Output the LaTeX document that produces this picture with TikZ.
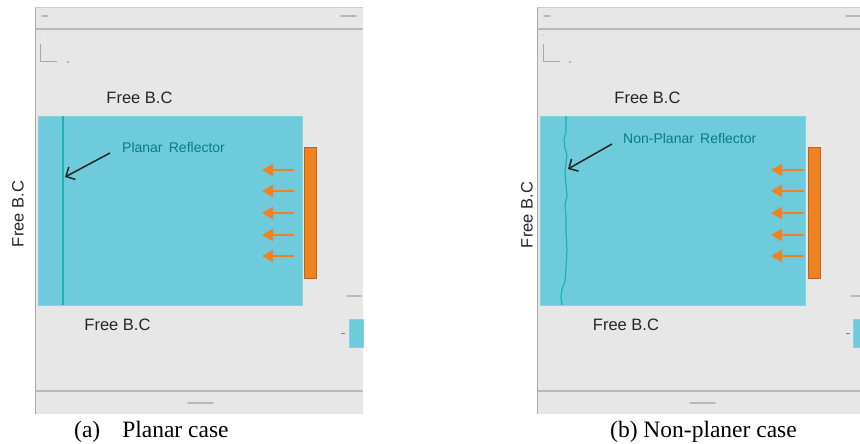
\documentclass[tikz,border=0pt]{standalone}
\usepackage{fontspec}
\setmainfont{Liberation Serif}
\setsansfont{Liberation Sans}
\usetikzlibrary{arrows.meta}
\definecolor{panelgray}{HTML}{E7E7E7}
\definecolor{framegray}{HTML}{A8A8A8}
\definecolor{domain}{HTML}{6DCBDC}
\definecolor{reflect}{HTML}{1FAFB5}
\definecolor{labelteal}{HTML}{0A7D80}
\definecolor{srcorange}{HTML}{F08222}
\definecolor{srcedge}{HTML}{C0641E}
\tikzset{
  panel/.style={fill=panelgray, draw=none},
  frameline/.style={draw=framegray, line width=1pt},
  bandline/.style={draw=framegray!80, line width=1.6pt},
  smudge/.style={draw=gray!55, line width=1.8pt, line cap=round},
  domainbox/.style={fill=domain, draw=domain!85!white, line width=0.8pt},
  bclabel/.style={font=\sffamily\fontsize{16.5}{16}\selectfont, text=black!85, inner sep=0pt},
  reflabel/.style={font=\sffamily\fontsize{14}{14}\selectfont, text=labelteal, inner sep=0pt},
  caption/.style={font=\fontsize{23.5}{24}\selectfont, text=black, inner sep=0pt},
  pointer/.style={draw=black!85, line width=1.5pt, -{Straight Barb[length=7pt,width=14pt,line width=1.5pt]}},
  wave/.style={draw=srcorange, line width=1.8pt, -{Triangle[length=11pt,width=12pt]}},
  source/.style={fill=srcorange, draw=srcedge, line width=0.8pt},
  reflector/.style={draw=reflect, line width=1.4pt},
}
\begin{document}
\begin{tikzpicture}[x=1pt,y=-1pt]
\useasboundingbox (0,0) rectangle (860,444);
\fill[white] (0,0) rectangle (860,444);

% ---------------- (a) planar case ----------------
\fill[panel] (35,7) rectangle (363,414);
\draw[frameline] (35,7) -- (35,414);
\draw[draw=framegray!60, line width=0.6pt] (35,7) -- (363,7);
\draw[bandline] (35,29) -- (363,29);
\draw[bandline] (35,391) -- (363,391);
% header / footer marks
\draw[smudge] (42,16) -- (48,16);
\draw[smudge] (341,16) -- (356,16);
\draw[smudge] (188,403) -- (213,403);
\draw[smudge, line width=1.2pt] (347,296) -- (361,296);
% axis glyph
\draw[draw=framegray, line width=1pt] (40,44) -- (40,62) -- (57,62);
\fill[gray] (68,62) circle (0.9);
\fill[gray!70] (40,35) circle (0.7);
% domain
\fill[domainbox] (38,116) rectangle (302,305);
\draw[reflector] (63,116) -- (63,305);
\coordinate (ra) at (65,177);
\node[reflabel, anchor=west] (rla) at (122,147) {Planar\, Reflector};
\draw[pointer] (110,153) -- (ra);
% source and incident waves
\draw[source] (304,147) rectangle (316,278);
\foreach \y [count=\i] in {170,191,213,235,256}{
  \coordinate (wsa\i) at (294,\y);
  \coordinate (wea\i) at (262,\y);
  \draw[wave] (wsa\i) -- (wea\i);
}
% legend swatch
\draw[draw=gray, line width=0.8pt] (341,333) -- (345,333);
\fill[domainbox] (349,319) rectangle (363,347);
% boundary labels
\node[bclabel] (fta) at (139.5,98) {Free B.C};
\node[bclabel] (fba) at (117.5,325) {Free B.C};
\node[bclabel, rotate=90] (fla) at (18,214) {Free B.C};
\node[caption, anchor=base west] (capa) at (74,437) {(a)\hspace{22pt}Planar case};

% ---------------- (b) non-planar case ----------------
\fill[panel] (537,7) rectangle (860,414);
\draw[frameline] (537,7) -- (537,414);
\draw[draw=framegray!60, line width=0.6pt] (537,7) -- (860,7);
\draw[bandline] (537,29) -- (860,29);
\draw[bandline] (537,391) -- (860,391);
\draw[smudge] (544,16) -- (550,16);
\draw[smudge] (846,16) -- (860,16);
\draw[smudge] (690,403) -- (715,403);
\draw[smudge, line width=1.2pt] (851,296) -- (860,296);
\draw[draw=framegray, line width=1pt] (543,44) -- (543,62) -- (560,62);
\fill[gray] (570,62) circle (0.9);
\fill[gray!70] (543,35) circle (0.7);
\fill[domainbox] (540,116) rectangle (805,305);
\draw[reflector, line width=1.2pt, line join=round]
  (566,116) -- (566,132) -- (564,140) -- (565,148) -- (567,155) -- (566,163)
  -- (565,172) -- (566,185) -- (567,196) -- (565,205) -- (566,215) -- (566,232)
  -- (567,250) -- (566,268) -- (565,281) -- (562,289) -- (561,297) -- (562,305);
\coordinate (rb) at (568,169);
\node[reflabel, anchor=west] (rlb) at (623,138) {Non-Planar\, Reflector};
\draw[pointer] (612,144) -- (rb);
\draw[source] (808,147) rectangle (820,278);
\foreach \y [count=\i] in {170,191,213,235,256}{
  \coordinate (wsb\i) at (804,\y);
  \coordinate (web\i) at (771,\y);
  \draw[wave] (wsb\i) -- (web\i);
}
\draw[draw=gray, line width=0.8pt] (846,333) -- (850,333);
\fill[domainbox] (853,319) rectangle (862,347);
\node[bclabel] (ftb) at (647.5,98) {Free B.C};
\node[bclabel] (fbb) at (626,325) {Free B.C};
\node[bclabel, rotate=90] (flb) at (527,215) {Free B.C};
\node[caption, anchor=base west] (capb) at (610,437) {(b) Non-planer case};
\end{tikzpicture}
\end{document}
